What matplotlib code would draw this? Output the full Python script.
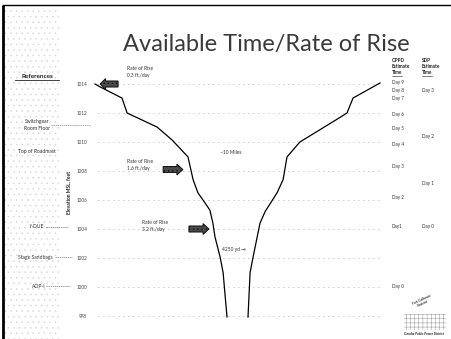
import matplotlib
matplotlib.use("Agg")
import matplotlib.pyplot as plt
from matplotlib.patches import Rectangle, FancyArrow

plt.rcParams['font.family'] = ['Lato', 'DejaVu Sans']
plt.rcParams['hatch.linewidth'] = 0.3

# River cross-section profile: distance across (arbitrary units) vs elevation (ft MSL)
left_x = [1.0, 2.7, 10.0, 11.7, 21.7, 26.7, 32.0, 33.7, 35.3, 38.0, 39.3, 40.3, 41.0, 42.7, 43.7, 45.0]
left_elev = [1014.0, 1013.8, 1013.03, 1012.0, 1011.03, 1010.14, 1008.97, 1007.4, 1006.5,
             1005.7, 1005.3, 1004.4, 1003.45, 1002.07, 1001.0, 997.93]
right_x = [52.0, 52.7, 53.7, 56.0, 57.7, 61.7, 63.7, 65.0, 69.3, 82.7, 85.0, 87.0, 96.0]
right_elev = [997.93, 1001.0, 1002.07, 1004.4, 1005.2, 1006.5, 1007.4, 1008.97, 1010.0,
              1011.7, 1012.0, 1013.03, 1014.07]

elev_ticks = [998, 1000, 1002, 1004, 1006, 1008, 1010, 1012, 1014]

# Estimated time columns: (label, elevation)
oppd_days = ["Day 9", "Day 8", "Day 7", "Day 6", "Day 5", "Day 4", "Day 3", "Day 2", "Day1", "Day 0"]
oppd_elev = [1014.07, 1013.52, 1012.97, 1011.93, 1010.9, 1009.86, 1008.34, 1006.14, 1004.2, 1000.0]
sdp_days = ["Day 3", "Day 2", "Day 1", "Day 0"]
sdp_elev = [1013.52, 1010.35, 1007.17, 1004.2]

# Reference levels listed on the left panel
ref_labels = ["Switchgear\nRoom Floor", "Top of Roadmast", "NOUE", "Stage Sandbags", "AOP-I"]

W, H = 451, 339
fig = plt.figure(figsize=(W / 100, H / 100), dpi=100)

# Decoration layer in pixel coordinates
bg = fig.add_axes([0, 0, 1, 1])
bg.set_xlim(0, W)
bg.set_ylim(H, 0)
bg.axis("off")

bg.add_patch(Rectangle((5, 6), 54, H - 6, facecolor="white", edgecolor="#d2d2d2",
                       hatch="...", linewidth=0, zorder=0))
bg.plot([3, 3], [5, H], color="black", lw=2.0, solid_capstyle="butt")
bg.plot([3, W], [5, 5], color="black", lw=1.0)

bg.text(266, 44, "Available Time/Rate of Rise", fontsize=17, color="#3a3a3a",
        ha="center", va="center")

bg.text(37, 76, "References", fontsize=4.6, fontweight="bold", ha="center", va="center",
        color="#222")
bg.plot([15, 59], [79.5, 79.5], color="#222", lw=0.6)

ty = dict(fontsize=3.6, color="#333", ha="center", va="center")
bg.text(37, 125, ref_labels[0], linespacing=1.3, **ty)
bg.plot([51, 90], [125, 125], color="#888", lw=0.5, ls=(0, (2, 1)))
bg.text(37, 152, ref_labels[1], **ty)
bg.text(37, 227, ref_labels[2], **ty)
bg.plot([46, 68], [227, 227], color="#777", lw=0.5, ls=(0, (2, 1)))
bg.text(35, 257, ref_labels[3], **ty)
bg.plot([55, 72], [257, 257], color="#777", lw=0.5, ls=(0, (2, 1)))
bg.text(39, 286, ref_labels[4], **ty)
bg.plot([46, 70], [286, 286], color="#777", lw=0.5, ls=(0, (2, 1)))

hd = dict(fontsize=3.4, fontweight="bold", color="#222", ha="left", va="center")
for i, word in enumerate(["OPPD", "Estimate", "Time"]):
    bg.text(392, 60 + 6.5 * i, word, **hd)
for i, word in enumerate(["SDP", "Estimate", "Time"]):
    bg.text(422, 60 + 6.5 * i, word, **hd)
bg.plot([392, 402], [76, 76], color="#222", lw=0.4)
bg.plot([422, 432], [76, 76], color="#222", lw=0.4)

# Logo block
bg.text(422, 302, "Fort Calhoun\nStation", fontsize=2.6, fontstyle="italic", fontweight="bold",
        rotation=25, ha="center", va="center", color="#333", linespacing=1.0)
bg.add_patch(Rectangle((404, 314), 42, 16, facecolor="white", edgecolor="#8a8a8a",
                       hatch="++++", linewidth=0))
bg.text(424, 334, "Omaha Public Power District", fontsize=2.3, fontstyle="italic",
        fontweight="bold", ha="center", va="center", color="#222")

# Main chart
y_lo, y_hi = 997.7, 1014.6
px_lo = 316 + (998 - y_lo) * 14.5
px_hi = 84 - (y_hi - 1014) * 14.5
ax = fig.add_axes([92 / W, 1 - px_lo / H, 300 / W, (px_lo - px_hi) / H])
ax.patch.set_alpha(0)
ax.set_xlim(0, 100)
ax.set_ylim(y_lo, y_hi)
for s in ax.spines.values():
    s.set_visible(False)
ax.set_xticks([])
ax.set_yticks(elev_ticks)
ax.set_yticklabels([str(t) for t in elev_ticks])
ax.tick_params(axis="y", length=0, pad=3.5, labelsize=3.3, labelcolor="#444")

for t in elev_ticks:
    ax.plot([2, 97], [t, t], color="#9a9a9a", lw=0.6, ls=(0, (1, 5)), zorder=1)

ax.plot(left_x, left_elev, color="black", lw=0.9, zorder=3)
ax.plot(right_x, right_elev, color="black", lw=0.9, zorder=3)

ax.text(-7.8, 1006.5, "Elevation MSL, feet", rotation=90, fontsize=3.6, fontweight="bold",
        ha="center", va="center", color="#222", clip_on=False)

an = dict(fontsize=3.5, color="#333", ha="left", va="center")
ax.text(11.7, 1014.8, "Rate of Rise\n0.3 ft./day", linespacing=1.5, **an)
ax.text(11.7, 1008.4, "Rate of Rise\n1.6 ft./day", linespacing=1.5, **an)
ax.text(16.7, 1004.2, "Rate of Rise\n3.2 ft./day", linespacing=1.5, **an)
ax.text(42.7, 1009.3, "~10 Miles", **an)
ax.text(43.3, 1002.6, "4250 yd \u2192", **an)

arr = dict(width=0.42, head_width=0.75, length_includes_head=True, facecolor="#4a4a4a",
           edgecolor="black", linewidth=0.6, hatch="....", zorder=4)
ax.add_patch(FancyArrow(8.7, 1014.0, -6.0, 0, head_length=1.8, **arr))
ax.add_patch(FancyArrow(23.7, 1008.1, 6.6, 0, head_length=2.0, **arr))
ax.add_patch(FancyArrow(32.3, 1004.0, 6.7, 0, head_length=2.0, **arr))

dy = dict(fontsize=3.3, color="#333", ha="left", va="center")
for lab, e in zip(oppd_days, oppd_elev):
    ax.text(100, e, lab, clip_on=False, **dy)
for lab, e in zip(sdp_days, sdp_elev):
    ax.text(110, e, lab, clip_on=False, **dy)

fig.savefig("out.png", dpi=100)
